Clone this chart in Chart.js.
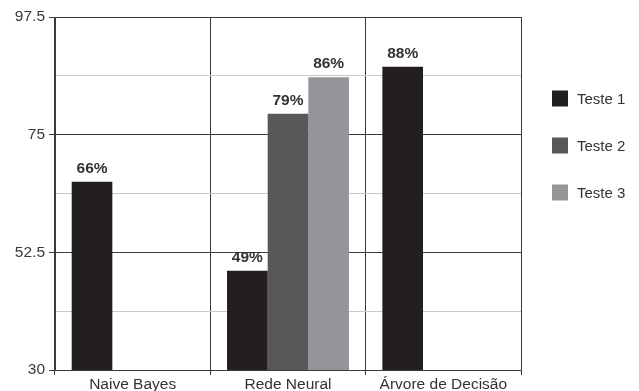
<!DOCTYPE html>
<html>
<head>
<meta charset="utf-8">
<script src="https://cdn.jsdelivr.net/npm/chart.js@4.4.0/dist/chart.umd.min.js"></script>
<style>
  html, body { margin: 0; padding: 0; background: #ffffff; }
  #wrap { width: 639px; height: 391px; position: relative; }
</style>
</head>
<body>
<div id="wrap"><canvas id="chart"></canvas></div>
<script>
// data
const categories = ['Naive Bayes', 'Rede Neural', 'Árvore de Decisão'];
const seriesNames = ['Teste 1', 'Teste 2', 'Teste 3'];
const teste1 = [66, 49, 88];
const teste2 = [null, 79, null];
const teste3 = [null, 86, null];
const yTicks = [30, 52.5, 75, 97.5];

const colors = ['#231f20', '#58585a', '#939598'];
const font = '"Liberation Sans", Arial, sans-serif';

function isMajor(v) {
  return yTicks.some(t => Math.abs(t - v) < 1e-6);
}

// value labels above each bar
const barLabels = {
  id: 'barLabels',
  afterDatasetsDraw(chart) {
    const ctx = chart.ctx;
    ctx.save();
    ctx.font = 'bold 15.5px ' + font;
    ctx.fillStyle = '#333333';
    ctx.textAlign = 'center';
    ctx.textBaseline = 'alphabetic';
    chart.data.datasets.forEach((ds, i) => {
      const meta = chart.getDatasetMeta(i);
      meta.data.forEach((bar, j) => {
        const v = ds.data[j];
        if (v == null) return;
        ctx.fillText(v + '%', bar.x, bar.y - 9);
      });
    });
    ctx.restore();
  }
};

// legend on the right
const sideLegend = {
  id: 'sideLegend',
  afterDraw(chart) {
    const ctx = chart.ctx;
    ctx.save();
    ctx.font = '15px ' + font;
    ctx.textBaseline = 'middle';
    ctx.textAlign = 'left';
    chart.data.datasets.forEach((ds, i) => {
      const cy = 98.5 + i * 47;
      ctx.fillStyle = ds.backgroundColor;
      ctx.fillRect(552, cy - 8, 16, 16);
      ctx.fillStyle = '#333333';
      ctx.fillText(ds.label, 577, cy + 1);
    });
    ctx.restore();
  }
};

new Chart(document.getElementById('chart'), {
  type: 'bar',
  data: {
    labels: categories,
    datasets: [
      { label: seriesNames[0], data: teste1, backgroundColor: colors[0] },
      { label: seriesNames[1], data: teste2, backgroundColor: colors[1] },
      { label: seriesNames[2], data: teste3, backgroundColor: colors[2] }
    ]
  },
  options: {
    responsive: true,
    maintainAspectRatio: false,
    animation: false,
    datasets: {
      bar: { categoryPercentage: 0.785, barPercentage: 1.0, borderWidth: 0 }
    },
    layout: { padding: { top: 17, right: 118, left: 0, bottom: 0 } },
    plugins: {
      legend: { display: false },
      tooltip: { enabled: false }
    },
    scales: {
      x: {
        offset: true,
        grid: {
          offset: true,
          color: '#3a3a3a',
          lineWidth: 1,
          tickLength: 5,
          tickColor: '#3a3a3a'
        },
        border: { color: '#3a3a3a', width: 1 },
        ticks: {
          color: '#333333',
          font: { family: font, size: 15.5 },
          padding: 0,
          maxRotation: 0,
          autoSkip: false
        },
        afterFit(scale) { scale.height = 21; }
      },
      y: {
        min: 30,
        max: 97.5,
        ticks: {
          stepSize: 11.25,
          color: '#3a3a3a',
          font: { family: font, size: 15.5 },
          padding: 4,
          callback: v => isMajor(v) ? String(v) : ''
        },
        grid: {
          color: ctx => isMajor(ctx.tick.value) ? '#3a3a3a' : '#c8c8c8',
          tickColor: ctx => isMajor(ctx.tick.value) ? '#3a3a3a' : 'rgba(0,0,0,0)',
          tickLength: 6,
          lineWidth: 1
        },
        border: { color: '#3a3a3a', width: 1 },
        afterFit(scale) { scale.width = 55; }
      }
    }
  },
  plugins: [barLabels, sideLegend]
});
</script>
</body>
</html>
